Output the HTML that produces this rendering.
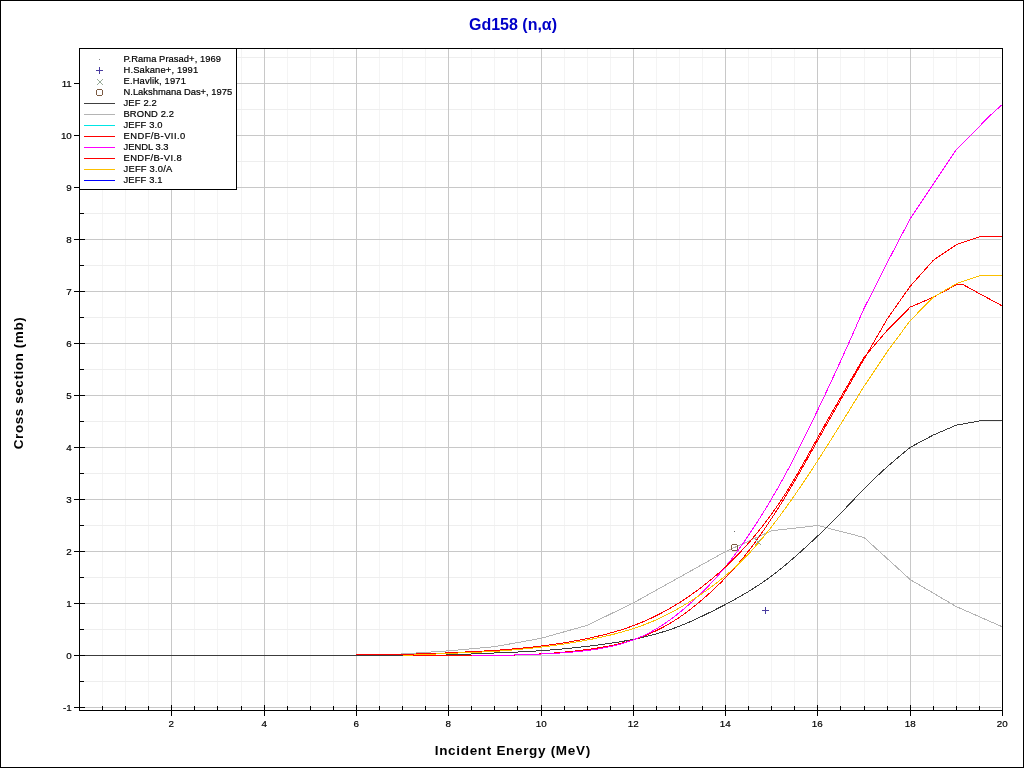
<!DOCTYPE html><html><head><meta charset="utf-8"><title>Gd158 (n,a)</title><style>html,body{margin:0;padding:0;background:#fff;width:1024px;height:768px;overflow:hidden}svg{display:block;will-change:transform}text{font-family:"Liberation Sans",sans-serif}</style></head><body><svg width="1024" height="768" viewBox="0 0 1024 768"><defs><clipPath id="clip"><rect x="80" y="49" width="922" height="661"/></clipPath></defs><rect x="0.5" y="0.5" width="1023" height="767" fill="#fff" stroke="#000" stroke-width="1"/><g shape-rendering="crispEdges"><line x1="102.5" y1="49" x2="102.5" y2="710" stroke="#f4f4f4"/><line x1="125.5" y1="49" x2="125.5" y2="710" stroke="#f4f4f4"/><line x1="148.5" y1="49" x2="148.5" y2="710" stroke="#f4f4f4"/><line x1="194.5" y1="49" x2="194.5" y2="710" stroke="#f4f4f4"/><line x1="217.5" y1="49" x2="217.5" y2="710" stroke="#f4f4f4"/><line x1="241.5" y1="49" x2="241.5" y2="710" stroke="#f4f4f4"/><line x1="287.5" y1="49" x2="287.5" y2="710" stroke="#f4f4f4"/><line x1="310.5" y1="49" x2="310.5" y2="710" stroke="#f4f4f4"/><line x1="333.5" y1="49" x2="333.5" y2="710" stroke="#f4f4f4"/><line x1="379.5" y1="49" x2="379.5" y2="710" stroke="#f4f4f4"/><line x1="402.5" y1="49" x2="402.5" y2="710" stroke="#f4f4f4"/><line x1="425.5" y1="49" x2="425.5" y2="710" stroke="#f4f4f4"/><line x1="471.5" y1="49" x2="471.5" y2="710" stroke="#f4f4f4"/><line x1="494.5" y1="49" x2="494.5" y2="710" stroke="#f4f4f4"/><line x1="517.5" y1="49" x2="517.5" y2="710" stroke="#f4f4f4"/><line x1="564.5" y1="49" x2="564.5" y2="710" stroke="#f4f4f4"/><line x1="587.5" y1="49" x2="587.5" y2="710" stroke="#f4f4f4"/><line x1="610.5" y1="49" x2="610.5" y2="710" stroke="#f4f4f4"/><line x1="656.5" y1="49" x2="656.5" y2="710" stroke="#f4f4f4"/><line x1="679.5" y1="49" x2="679.5" y2="710" stroke="#f4f4f4"/><line x1="702.5" y1="49" x2="702.5" y2="710" stroke="#f4f4f4"/><line x1="748.5" y1="49" x2="748.5" y2="710" stroke="#f4f4f4"/><line x1="771.5" y1="49" x2="771.5" y2="710" stroke="#f4f4f4"/><line x1="794.5" y1="49" x2="794.5" y2="710" stroke="#f4f4f4"/><line x1="840.5" y1="49" x2="840.5" y2="710" stroke="#f4f4f4"/><line x1="864.5" y1="49" x2="864.5" y2="710" stroke="#f4f4f4"/><line x1="887.5" y1="49" x2="887.5" y2="710" stroke="#f4f4f4"/><line x1="933.5" y1="49" x2="933.5" y2="710" stroke="#f4f4f4"/><line x1="956.5" y1="49" x2="956.5" y2="710" stroke="#f4f4f4"/><line x1="979.5" y1="49" x2="979.5" y2="710" stroke="#f4f4f4"/><line x1="80" y1="681.5" x2="1001" y2="681.5" stroke="#eeeeee"/><line x1="80" y1="629.5" x2="1001" y2="629.5" stroke="#eeeeee"/><line x1="80" y1="577.5" x2="1001" y2="577.5" stroke="#eeeeee"/><line x1="80" y1="525.5" x2="1001" y2="525.5" stroke="#eeeeee"/><line x1="80" y1="473.5" x2="1001" y2="473.5" stroke="#eeeeee"/><line x1="80" y1="421.5" x2="1001" y2="421.5" stroke="#eeeeee"/><line x1="80" y1="369.5" x2="1001" y2="369.5" stroke="#eeeeee"/><line x1="80" y1="317.5" x2="1001" y2="317.5" stroke="#eeeeee"/><line x1="80" y1="265.5" x2="1001" y2="265.5" stroke="#eeeeee"/><line x1="80" y1="213.5" x2="1001" y2="213.5" stroke="#eeeeee"/><line x1="80" y1="161.5" x2="1001" y2="161.5" stroke="#eeeeee"/><line x1="80" y1="109.5" x2="1001" y2="109.5" stroke="#eeeeee"/><line x1="80" y1="57.5" x2="1001" y2="57.5" stroke="#eeeeee"/><line x1="171.5" y1="49" x2="171.5" y2="710" stroke="#c8c8c8"/><line x1="264.5" y1="49" x2="264.5" y2="710" stroke="#c8c8c8"/><line x1="356.5" y1="49" x2="356.5" y2="710" stroke="#c8c8c8"/><line x1="448.5" y1="49" x2="448.5" y2="710" stroke="#c8c8c8"/><line x1="541.5" y1="49" x2="541.5" y2="710" stroke="#c8c8c8"/><line x1="633.5" y1="49" x2="633.5" y2="710" stroke="#c8c8c8"/><line x1="725.5" y1="49" x2="725.5" y2="710" stroke="#c8c8c8"/><line x1="817.5" y1="49" x2="817.5" y2="710" stroke="#c8c8c8"/><line x1="910.5" y1="49" x2="910.5" y2="710" stroke="#c8c8c8"/><line x1="80" y1="707.5" x2="1001" y2="707.5" stroke="#c8c8c8"/><line x1="80" y1="655.5" x2="1001" y2="655.5" stroke="#c8c8c8"/><line x1="80" y1="603.5" x2="1001" y2="603.5" stroke="#c8c8c8"/><line x1="80" y1="551.5" x2="1001" y2="551.5" stroke="#c8c8c8"/><line x1="80" y1="499.5" x2="1001" y2="499.5" stroke="#c8c8c8"/><line x1="80" y1="447.5" x2="1001" y2="447.5" stroke="#c8c8c8"/><line x1="80" y1="395.5" x2="1001" y2="395.5" stroke="#c8c8c8"/><line x1="80" y1="343.5" x2="1001" y2="343.5" stroke="#c8c8c8"/><line x1="80" y1="291.5" x2="1001" y2="291.5" stroke="#c8c8c8"/><line x1="80" y1="239.5" x2="1001" y2="239.5" stroke="#c8c8c8"/><line x1="80" y1="187.5" x2="1001" y2="187.5" stroke="#c8c8c8"/><line x1="80" y1="135.5" x2="1001" y2="135.5" stroke="#c8c8c8"/><line x1="80" y1="83.5" x2="1001" y2="83.5" stroke="#c8c8c8"/></g><g clip-path="url(#clip)"><polyline points="370.25,655.50 402.55,653.94 425.62,652.38 448.70,650.82 494.85,646.66 541.00,638.34 587.15,625.34 633.30,602.98 725.60,551.50 771.75,530.70 817.90,525.50 864.05,537.46 910.20,579.58 956.35,606.62 1002.50,626.90" fill="none" stroke="#b4b4b4" stroke-width="1" stroke-linejoin="round" shape-rendering="crispEdges"/><polyline points="79.50,655.50 402.55,655.50 448.70,654.98 494.85,652.98 499.46,652.80 504.08,652.62 508.69,652.42 513.31,652.23 517.92,652.02 522.54,651.79 527.15,651.55 531.77,651.29 536.38,651.01 541.00,650.70 545.61,650.37 550.23,650.01 554.84,649.62 559.46,649.21 564.07,648.78 568.69,648.33 573.30,647.85 577.92,647.36 582.53,646.85 587.15,646.32 591.76,645.77 596.38,645.20 600.99,644.61 605.61,643.98 610.22,643.32 614.84,642.63 619.45,641.88 624.07,641.09 628.68,640.25 633.30,639.34 637.91,638.38 642.53,637.34 647.14,636.24 651.76,635.06 656.37,633.81 660.99,632.47 665.60,631.05 670.22,629.53 674.83,627.90 679.45,626.16 684.06,624.30 688.68,622.34 693.29,620.28 697.91,618.15 702.52,615.97 707.14,613.74 711.75,611.46 716.37,609.14 720.98,606.78 725.60,604.38 730.21,601.92 734.83,599.41 739.44,596.83 744.06,594.17 748.67,591.41 753.29,588.54 757.90,585.55 762.52,582.44 767.13,579.20 771.75,575.81 776.36,572.28 780.98,568.62 785.59,564.83 790.21,560.93 794.82,556.93 799.44,552.85 804.05,548.69 808.67,544.46 813.28,540.16 817.90,535.80 822.51,531.39 827.13,526.91 831.74,522.36 836.36,517.73 840.97,513.01 845.59,508.21 850.20,503.35 854.82,498.48 859.43,493.65 864.05,488.89 868.66,484.25 873.28,479.73 877.89,475.33 882.51,471.05 887.12,466.88 891.74,462.83 896.35,458.87 900.97,454.98 905.58,451.14 910.20,447.32 933.27,435.02 956.35,425.14 979.42,420.98 1002.50,420.98" fill="none" stroke="#3c3c3c" stroke-width="1" stroke-linejoin="round" shape-rendering="crispEdges"/><polyline points="402.55,655.50 494.85,655.50 499.46,655.47 504.08,655.34 508.69,655.21 513.31,655.07 517.92,654.92 522.54,654.75 527.15,654.57 531.77,654.36 536.38,654.14 541.00,653.88 545.61,653.59 550.23,653.28 554.84,652.93 559.46,652.54 564.07,652.13 568.69,651.68 573.30,651.19 577.92,650.67 582.53,650.11 587.15,649.51 591.76,648.87 596.38,648.18 600.99,647.44 605.61,646.62 610.22,645.73 614.84,644.76 619.45,643.68 624.07,642.51 628.68,641.22 633.30,639.80 637.91,638.25 642.53,636.57 647.14,634.74 651.76,632.75 656.37,630.61 660.99,628.31 665.60,625.84 670.22,623.18 674.83,620.34 679.45,617.30 684.06,614.06 688.68,610.63 693.29,607.02 697.91,603.27 702.52,599.37 707.14,595.35 711.75,591.19 716.37,586.86 720.98,582.36 725.60,577.67 730.21,572.76 734.83,567.63 739.44,562.27 744.06,556.67 748.67,550.83 753.29,544.75 757.90,538.43 762.52,531.88 767.13,525.13 771.75,518.20 776.36,511.08 780.98,503.79 785.59,496.31 790.21,488.66 794.82,480.83 799.44,472.82 804.05,464.68 808.67,456.46 813.28,448.20 817.90,439.95 822.51,431.75 827.13,423.60 831.74,415.49 836.36,407.41 840.97,399.34 845.59,391.29 850.20,383.23 854.82,375.18 859.43,367.12 864.05,359.07 887.12,319.06 910.20,286.30 933.27,260.30 956.35,244.70 979.42,236.90 1002.50,236.90" fill="none" stroke="#ff0000" stroke-width="1" stroke-linejoin="round" shape-rendering="crispEdges"/><polyline points="471.77,655.50 494.85,655.50 499.46,655.42 504.08,655.29 508.69,655.16 513.31,655.02 517.92,654.88 522.54,654.73 527.15,654.57 531.77,654.40 536.38,654.22 541.00,654.03 545.61,653.82 550.23,653.59 554.84,653.33 559.46,653.05 564.07,652.73 568.69,652.38 573.30,651.98 577.92,651.54 582.53,651.05 587.15,650.50 591.76,649.90 596.38,649.22 600.99,648.46 605.61,647.60 610.22,646.64 614.84,645.57 619.45,644.37 624.07,643.03 628.68,641.54 633.30,639.89 637.91,638.07 642.53,636.06 647.14,633.86 651.76,631.46 656.37,628.84 660.99,626.00 665.60,622.94 670.22,619.68 674.83,616.23 679.45,612.59 684.06,608.79 688.68,604.81 693.29,600.67 697.91,596.37 702.52,591.91 707.14,587.29 711.75,582.48 716.37,577.46 720.98,572.20 725.60,566.67 730.21,560.87 734.83,554.79 739.44,548.46 744.06,541.91 748.67,535.15 753.29,528.20 757.90,521.07 762.52,513.74 767.13,506.21 771.75,498.48 776.36,490.55 780.98,482.39 785.59,474.02 790.21,465.42 794.82,456.59 799.44,447.53 804.05,438.27 808.67,428.84 813.28,419.29 817.90,409.65 822.51,399.96 827.13,390.20 831.74,380.35 836.36,370.39 840.97,360.32 845.59,350.12 850.20,339.80 854.82,329.40 859.43,318.94 864.05,308.46 887.12,262.90 910.20,218.70 956.35,149.54 990.96,114.70 1002.50,104.30" fill="none" stroke="#ff00ff" stroke-width="1" stroke-linejoin="round" shape-rendering="crispEdges"/><polyline points="356.40,654.46 402.55,654.46 448.70,652.90 494.85,650.41 499.46,650.03 504.08,649.66 508.69,649.27 513.31,648.87 517.92,648.46 522.54,648.03 527.15,647.58 531.77,647.10 536.38,646.59 541.00,646.05 545.61,645.47 550.23,644.86 554.84,644.21 559.46,643.52 564.07,642.79 568.69,642.02 573.30,641.21 577.92,640.35 582.53,639.46 587.15,638.53 591.76,637.55 596.38,636.52 600.99,635.43 605.61,634.28 610.22,633.06 614.84,631.76 619.45,630.38 624.07,628.91 628.68,627.34 633.30,625.66 637.91,623.88 642.53,621.98 647.14,619.98 651.76,617.86 656.37,615.62 660.99,613.28 665.60,610.81 670.22,608.22 674.83,605.51 679.45,602.65 684.06,599.66 688.68,596.53 693.29,593.27 697.91,589.88 702.52,586.37 707.14,582.74 711.75,578.99 716.37,575.09 720.98,571.04 725.60,566.82 730.21,562.42 734.83,557.83 739.44,553.06 744.06,548.09 748.67,542.93 753.29,537.56 757.90,531.98 762.52,526.17 767.13,520.13 771.75,513.83 776.36,507.27 780.98,500.44 785.59,493.34 790.21,485.96 794.82,478.29 799.44,470.35 804.05,462.20 808.67,453.91 813.28,445.57 817.90,437.26 822.51,429.03 827.13,420.88 831.74,412.81 836.36,404.80 840.97,396.83 845.59,388.90 850.20,380.99 854.82,373.10 859.43,365.22 864.05,357.35 887.12,330.50 910.20,307.10 933.27,297.22 956.35,284.74 963.27,284.74 979.42,293.58 1002.50,306.06" fill="none" stroke="#ff0000" stroke-width="1" stroke-linejoin="round" shape-rendering="crispEdges"/><polyline points="402.55,655.50 448.70,653.42 494.85,651.44 499.46,651.05 504.08,650.67 508.69,650.28 513.31,649.88 517.92,649.46 522.54,649.04 527.15,648.59 531.77,648.12 536.38,647.62 541.00,647.10 545.61,646.54 550.23,645.96 554.84,645.34 559.46,644.68 564.07,644.00 568.69,643.28 573.30,642.52 577.92,641.73 582.53,640.91 587.15,640.05 591.76,639.15 596.38,638.21 600.99,637.22 605.61,636.18 610.22,635.08 614.84,633.93 619.45,632.70 624.07,631.40 628.68,630.02 633.30,628.55 637.91,627.00 642.53,625.35 647.14,623.59 651.76,621.72 656.37,619.73 660.99,617.60 665.60,615.35 670.22,612.98 674.83,610.49 679.45,607.90 684.06,605.19 688.68,602.39 693.29,599.47 697.91,596.43 702.52,593.29 707.14,590.02 711.75,586.63 716.37,583.11 720.98,579.44 725.60,575.62 730.21,571.63 734.83,567.47 739.44,563.12 744.06,558.56 748.67,553.78 753.29,548.76 757.90,543.52 762.52,538.07 767.13,532.41 771.75,526.57 776.36,520.55 780.98,514.37 785.59,508.04 790.21,501.57 794.82,494.97 799.44,488.26 804.05,481.43 808.67,474.50 813.28,467.48 817.90,460.36 822.51,453.16 827.13,445.89 831.74,438.55 836.36,431.17 840.97,423.74 845.59,416.29 850.20,408.82 854.82,401.32 859.43,393.82 864.05,386.31 887.12,351.82 910.20,320.62 933.27,297.22 956.35,283.70 979.42,275.90 1002.50,275.90" fill="none" stroke="#fcc000" stroke-width="1" stroke-linejoin="round" shape-rendering="crispEdges"/></g><g shape-rendering="crispEdges"><rect x="734" y="531" width="1" height="1" fill="#6a6a6a"/><g fill="#4a3ca0"><rect x="762" y="610" width="7" height="1"/><rect x="765" y="607" width="1" height="7"/></g><g fill="#90a290"><rect x="755" y="539" width="1" height="1"/><rect x="760" y="539" width="1" height="1"/><rect x="756" y="540" width="1" height="1"/><rect x="759" y="540" width="1" height="1"/><rect x="757" y="541" width="1" height="1"/><rect x="758" y="541" width="1" height="1"/><rect x="758" y="542" width="1" height="1"/><rect x="757" y="542" width="1" height="1"/><rect x="759" y="543" width="1" height="1"/><rect x="756" y="543" width="1" height="1"/><rect x="760" y="544" width="1" height="1"/><rect x="755" y="544" width="1" height="1"/></g><g fill="#7b5a42"><rect x="732" y="544" width="5" height="1"/><rect x="732" y="550" width="5" height="1"/><rect x="731" y="545" width="1" height="5"/><rect x="737" y="545" width="1" height="5"/></g></g><g shape-rendering="crispEdges" stroke="#000"><line x1="79.5" y1="48" x2="79.5" y2="711"/><line x1="79" y1="710.5" x2="1003" y2="710.5"/><line x1="79" y1="48.5" x2="1003" y2="48.5"/><line x1="1002.5" y1="48" x2="1002.5" y2="711"/><line x1="74" y1="707.5" x2="85" y2="707.5"/><line x1="80" y1="681.5" x2="84" y2="681.5"/><line x1="74" y1="655.5" x2="85" y2="655.5"/><line x1="80" y1="629.5" x2="84" y2="629.5"/><line x1="74" y1="603.5" x2="85" y2="603.5"/><line x1="80" y1="577.5" x2="84" y2="577.5"/><line x1="74" y1="551.5" x2="85" y2="551.5"/><line x1="80" y1="525.5" x2="84" y2="525.5"/><line x1="74" y1="499.5" x2="85" y2="499.5"/><line x1="80" y1="473.5" x2="84" y2="473.5"/><line x1="74" y1="447.5" x2="85" y2="447.5"/><line x1="80" y1="421.5" x2="84" y2="421.5"/><line x1="74" y1="395.5" x2="85" y2="395.5"/><line x1="80" y1="369.5" x2="84" y2="369.5"/><line x1="74" y1="343.5" x2="85" y2="343.5"/><line x1="80" y1="317.5" x2="84" y2="317.5"/><line x1="74" y1="291.5" x2="85" y2="291.5"/><line x1="80" y1="265.5" x2="84" y2="265.5"/><line x1="74" y1="239.5" x2="85" y2="239.5"/><line x1="80" y1="213.5" x2="84" y2="213.5"/><line x1="74" y1="187.5" x2="85" y2="187.5"/><line x1="80" y1="161.5" x2="84" y2="161.5"/><line x1="74" y1="135.5" x2="85" y2="135.5"/><line x1="80" y1="109.5" x2="84" y2="109.5"/><line x1="74" y1="83.5" x2="85" y2="83.5"/><line x1="80" y1="57.5" x2="84" y2="57.5"/><line x1="102.5" y1="706" x2="102.5" y2="710"/><line x1="125.5" y1="706" x2="125.5" y2="710"/><line x1="148.5" y1="706" x2="148.5" y2="710"/><line x1="171.5" y1="705" x2="171.5" y2="716"/><line x1="194.5" y1="706" x2="194.5" y2="710"/><line x1="217.5" y1="706" x2="217.5" y2="710"/><line x1="241.5" y1="706" x2="241.5" y2="710"/><line x1="264.5" y1="705" x2="264.5" y2="716"/><line x1="287.5" y1="706" x2="287.5" y2="710"/><line x1="310.5" y1="706" x2="310.5" y2="710"/><line x1="333.5" y1="706" x2="333.5" y2="710"/><line x1="356.5" y1="705" x2="356.5" y2="716"/><line x1="379.5" y1="706" x2="379.5" y2="710"/><line x1="402.5" y1="706" x2="402.5" y2="710"/><line x1="425.5" y1="706" x2="425.5" y2="710"/><line x1="448.5" y1="705" x2="448.5" y2="716"/><line x1="471.5" y1="706" x2="471.5" y2="710"/><line x1="494.5" y1="706" x2="494.5" y2="710"/><line x1="517.5" y1="706" x2="517.5" y2="710"/><line x1="541.5" y1="705" x2="541.5" y2="716"/><line x1="564.5" y1="706" x2="564.5" y2="710"/><line x1="587.5" y1="706" x2="587.5" y2="710"/><line x1="610.5" y1="706" x2="610.5" y2="710"/><line x1="633.5" y1="705" x2="633.5" y2="716"/><line x1="656.5" y1="706" x2="656.5" y2="710"/><line x1="679.5" y1="706" x2="679.5" y2="710"/><line x1="702.5" y1="706" x2="702.5" y2="710"/><line x1="725.5" y1="705" x2="725.5" y2="716"/><line x1="748.5" y1="706" x2="748.5" y2="710"/><line x1="771.5" y1="706" x2="771.5" y2="710"/><line x1="794.5" y1="706" x2="794.5" y2="710"/><line x1="817.5" y1="705" x2="817.5" y2="716"/><line x1="840.5" y1="706" x2="840.5" y2="710"/><line x1="864.5" y1="706" x2="864.5" y2="710"/><line x1="887.5" y1="706" x2="887.5" y2="710"/><line x1="910.5" y1="705" x2="910.5" y2="716"/><line x1="933.5" y1="706" x2="933.5" y2="710"/><line x1="956.5" y1="706" x2="956.5" y2="710"/><line x1="979.5" y1="706" x2="979.5" y2="710"/><line x1="1002.5" y1="705" x2="1002.5" y2="716"/></g><g font-family="Liberation Sans" font-size="9.8" fill="#000" stroke="#000" stroke-width="0.2"><text x="71.8" y="711.0" text-anchor="end">-1</text><text x="71.8" y="659.0" text-anchor="end">0</text><text x="71.8" y="607.0" text-anchor="end">1</text><text x="71.8" y="555.0" text-anchor="end">2</text><text x="71.8" y="503.0" text-anchor="end">3</text><text x="71.8" y="451.0" text-anchor="end">4</text><text x="71.8" y="399.0" text-anchor="end">5</text><text x="71.8" y="347.0" text-anchor="end">6</text><text x="71.8" y="295.0" text-anchor="end">7</text><text x="71.8" y="243.0" text-anchor="end">8</text><text x="71.8" y="191.0" text-anchor="end">9</text><text x="71.8" y="139.0" text-anchor="end">10</text><text x="71.8" y="87.0" text-anchor="end">11</text><text x="171.2" y="727" text-anchor="middle">2</text><text x="264.2" y="727" text-anchor="middle">4</text><text x="356.2" y="727" text-anchor="middle">6</text><text x="448.2" y="727" text-anchor="middle">8</text><text x="541.2" y="727" text-anchor="middle">10</text><text x="633.2" y="727" text-anchor="middle">12</text><text x="725.2" y="727" text-anchor="middle">14</text><text x="817.2" y="727" text-anchor="middle">16</text><text x="910.2" y="727" text-anchor="middle">18</text><text x="1002.2" y="727" text-anchor="middle">20</text></g><g font-family="Liberation Sans" font-size="9.4" fill="#000"><rect x="79.5" y="48.5" width="157" height="141" fill="#fff" stroke="#000" shape-rendering="crispEdges"/><text x="123.5" y="61.6" letter-spacing="0.05" stroke="#000" stroke-width="0.2">P.Rama Prasad+, 1969</text><text x="123.5" y="72.6" letter-spacing="0.14" stroke="#000" stroke-width="0.2">H.Sakane+, 1991</text><text x="123.5" y="83.6" letter-spacing="0.15" stroke="#000" stroke-width="0.2">E.Havlik, 1971</text><text x="123.5" y="94.6" letter-spacing="0.0" stroke="#000" stroke-width="0.2">N.Lakshmana Das+, 1975</text><text x="123.5" y="105.6" letter-spacing="0.17" stroke="#000" stroke-width="0.2">JEF 2.2</text><line x1="84" y1="103.5" x2="115" y2="103.5" stroke="#404040" shape-rendering="crispEdges"/><text x="123.5" y="116.6" letter-spacing="0.12" stroke="#000" stroke-width="0.2">BROND 2.2</text><line x1="84" y1="114.5" x2="115" y2="114.5" stroke="#b4b4b4" shape-rendering="crispEdges"/><text x="123.5" y="127.6" letter-spacing="0.14" stroke="#000" stroke-width="0.2">JEFF 3.0</text><line x1="84" y1="125.5" x2="115" y2="125.5" stroke="#00e6e6" shape-rendering="crispEdges"/><text x="123.5" y="138.6" letter-spacing="0.45" stroke="#000" stroke-width="0.2">ENDF/B-VII.0</text><line x1="84" y1="136.5" x2="115" y2="136.5" stroke="#ff0000" shape-rendering="crispEdges"/><text x="123.5" y="149.6" letter-spacing="0.0" stroke="#000" stroke-width="0.2">JENDL 3.3</text><line x1="84" y1="147.5" x2="115" y2="147.5" stroke="#ff00ff" shape-rendering="crispEdges"/><text x="123.5" y="160.6" letter-spacing="0.4" stroke="#000" stroke-width="0.2">ENDF/B-VI.8</text><line x1="84" y1="158.5" x2="115" y2="158.5" stroke="#ff0000" shape-rendering="crispEdges"/><text x="123.5" y="171.6" letter-spacing="0.22" stroke="#000" stroke-width="0.2">JEFF 3.0/A</text><line x1="84" y1="169.5" x2="115" y2="169.5" stroke="#fcc000" shape-rendering="crispEdges"/><text x="123.5" y="182.6" letter-spacing="0.14" stroke="#000" stroke-width="0.2">JEFF 3.1</text><line x1="84" y1="180.5" x2="115" y2="180.5" stroke="#0000ff" shape-rendering="crispEdges"/><g shape-rendering="crispEdges"><rect x="99" y="59" width="1" height="1" fill="#8a8a8a"/><g fill="#4a3ca0"><rect x="96" y="70" width="7" height="1"/><rect x="99" y="67" width="1" height="7"/></g><g fill="#98aa98"><rect x="97" y="79" width="1" height="1"/><rect x="102" y="79" width="1" height="1"/><rect x="98" y="80" width="1" height="1"/><rect x="101" y="80" width="1" height="1"/><rect x="99" y="81" width="1" height="1"/><rect x="100" y="81" width="1" height="1"/><rect x="100" y="82" width="1" height="1"/><rect x="99" y="82" width="1" height="1"/><rect x="101" y="83" width="1" height="1"/><rect x="98" y="83" width="1" height="1"/><rect x="102" y="84" width="1" height="1"/><rect x="97" y="84" width="1" height="1"/></g><g fill="#7b5a42"><rect x="97" y="89" width="5" height="1"/><rect x="97" y="95" width="5" height="1"/><rect x="96" y="90" width="1" height="5"/><rect x="102" y="90" width="1" height="5"/></g></g></g><text x="513" y="30" text-anchor="middle" font-family="Liberation Sans" font-weight="bold" font-size="16" fill="#0000c8">Gd158 (n,α)</text><text x="512.8" y="755" text-anchor="middle" font-family="Liberation Sans" font-weight="bold" font-size="13.5" letter-spacing="0.68" fill="#000">Incident Energy (MeV)</text><text transform="translate(23,383) rotate(-90)" x="0" y="0" text-anchor="middle" font-family="Liberation Sans" font-weight="bold" font-size="13.5" letter-spacing="0.57" fill="#000">Cross section (mb)</text></svg></body></html>
